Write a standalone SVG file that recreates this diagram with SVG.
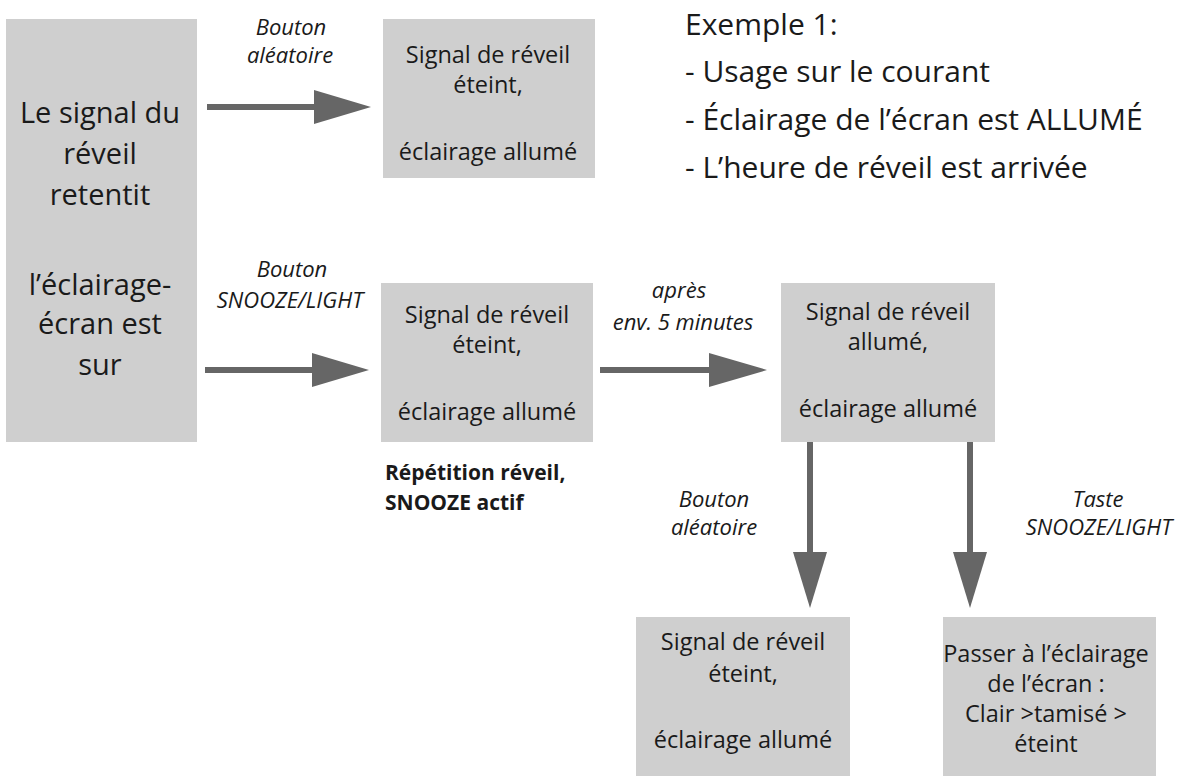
<svg xmlns="http://www.w3.org/2000/svg" width="1187" height="776" viewBox="0 0 1187 776">
<style>
.box{fill:#cfcfcf}
text{font-family:"Open Sans","Liberation Sans",sans-serif;fill:#1a1a1a}
.t{font-size:23.5px;text-anchor:middle}
.big{font-size:29px;text-anchor:middle}
.lab{font-size:22px;font-style:italic;text-anchor:middle}
.hd{font-size:30px}
.ln{stroke:#666;stroke-width:6;fill:none}
.hdr{fill:#666}
</style>
<rect width="1187" height="776" fill="#fff"/>
<g id="n1"><rect class="box" x="6" y="19" width="191" height="423"/>
<text class="big" x="100" y="123">Le signal du</text><text class="big" x="100" y="164">réveil</text><text class="big" x="100" y="205">retentit</text>
<text class="big" x="100" y="295">l’éclairage-</text><text class="big" x="100" y="334">écran est</text><text class="big" x="100" y="375">sur</text></g>
<g id="n2"><rect class="box" x="383" y="19" width="212" height="159"/>
<text class="t" x="488" y="63">Signal de réveil</text><text class="t" x="488" y="93">éteint,</text><text class="t" x="488" y="160">éclairage allumé</text></g>
<g id="n3"><rect class="box" x="381" y="283" width="212" height="159"/>
<text class="t" x="487" y="323">Signal de réveil</text><text class="t" x="487" y="353">éteint,</text><text class="t" x="487" y="420">éclairage allumé</text></g>
<g id="n4"><rect class="box" x="781" y="283" width="214" height="159"/>
<text class="t" x="888" y="320">Signal de réveil</text><text class="t" x="888" y="350">allumé,</text><text class="t" x="888" y="417">éclairage allumé</text></g>
<g id="n5"><rect class="box" x="636" y="617" width="214" height="159"/>
<text class="t" x="743" y="650">Signal de réveil</text><text class="t" x="743" y="682">éteint,</text><text class="t" x="743" y="748">éclairage allumé</text></g>
<g id="n6"><rect class="box" x="943" y="617" width="213" height="159"/>
<text class="t" x="1046" y="662">Passer à l’éclairage</text><text class="t" x="1046" y="692">de l’écran :</text><text class="t" x="1046" y="722">Clair &gt;tamisé &gt;</text><text class="t" x="1046" y="752">éteint</text></g>
<g id="connectors">
<line class="ln" x1="207" y1="107" x2="318" y2="107"/><polygon class="hdr" points="314,90 371,107 314,124"/>
<line class="ln" x1="205" y1="370" x2="316" y2="370"/><polygon class="hdr" points="312,353 369,370 312,387"/>
<line class="ln" x1="600" y1="370" x2="713" y2="370"/><polygon class="hdr" points="709,353 767,370 709,387"/>
<line class="ln" x1="810" y1="442" x2="810" y2="556"/><polygon class="hdr" points="793,552 810,608 827,552"/>
<line class="ln" x1="970" y1="442" x2="970" y2="556"/><polygon class="hdr" points="953,552 970,608 987,552"/>
<text class="lab" x="291" y="35">Bouton</text><text class="lab" x="290" y="63">aléatoire</text>
<text class="lab" x="292" y="277">Bouton</text><text class="lab" x="290" y="308">SNOOZE/LIGHT</text>
<text class="lab" x="679" y="298">après</text><text class="lab" x="683" y="330">env. 5 minutes</text>
<text class="lab" x="714" y="507">Bouton</text><text class="lab" x="714" y="535">aléatoire</text>
<text class="lab" x="1098" y="507">Taste</text><text class="lab" x="1099" y="535">SNOOZE/LIGHT</text>
</g>
<text x="385" y="480" style="font-size:21px;font-weight:bold">Répétition réveil,</text>
<text x="385" y="510" style="font-size:21px;font-weight:bold">SNOOZE actif</text>
<text class="hd" x="685" y="35">Exemple 1:</text>
<text class="hd" x="685" y="82">- Usage sur le courant</text>
<text class="hd" x="685" y="130">- Éclairage de l’écran est ALLUMÉ</text>
<text class="hd" x="685" y="178">- L’heure de réveil est arrivée</text>
</svg>
